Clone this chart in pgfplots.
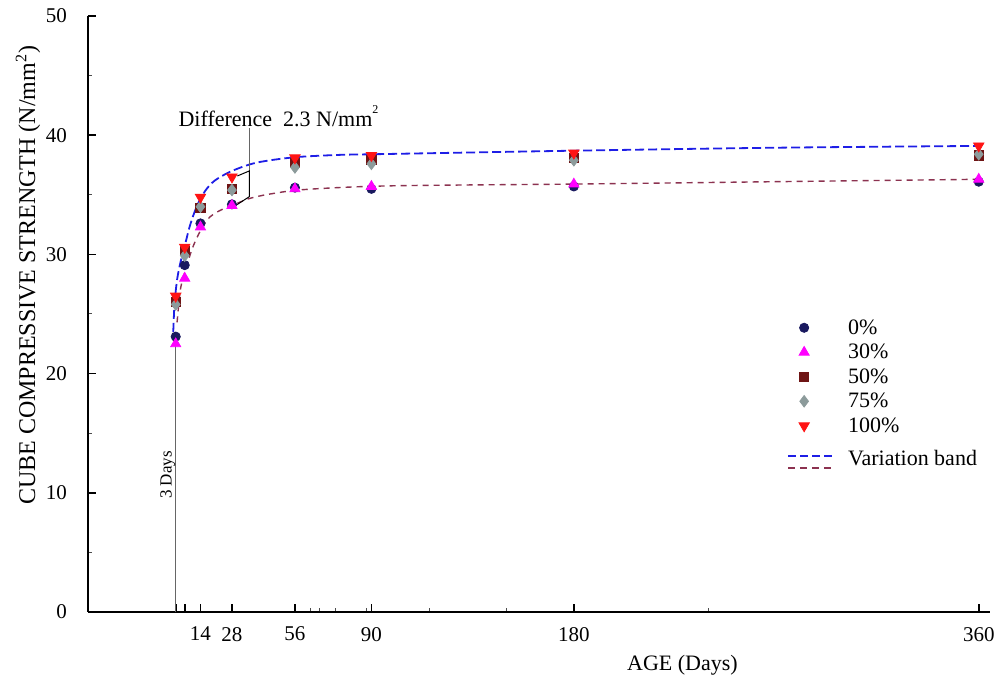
\documentclass[border=0pt]{standalone}
\usepackage{fontspec}
\setmainfont{Liberation Serif}
\usepackage{pgfplots}
\pgfplotsset{compat=1.18}
\definecolor{cnavy}{RGB}{25,25,95}
\definecolor{cmag}{RGB}{255,0,255}
\definecolor{cmaroon}{RGB}{110,20,20}
\definecolor{cgray}{RGB}{140,155,155}
\definecolor{cred}{RGB}{255,20,20}
\definecolor{cblue}{RGB}{30,30,230}
\definecolor{cpurple}{RGB}{140,50,80}
\pgfplotstableread{
day  p0    p30   p50   p75   p100
3    23.1  22.5  26.0  25.8  26.5
7    29.1  28.0  30.3  29.9  30.6
14   32.6  32.3  33.9  34.0  34.8
28   34.2  34.1  35.5  35.4  36.5
56   35.6  35.5  37.7  37.3  38.1
90   35.5  35.7  37.9  37.6  38.3
180  35.7  35.9  38.1  37.9  38.5
360  36.1  36.3  38.3  38.4  39.1
}\strength
\begin{document}
\begin{tikzpicture}
\path[use as bounding box] (-44pt,-36pt) rectangle (457pt,306pt);
\begin{axis}[
  scale only axis, width=451pt, height=298pt,
  xmin=-36, xmax=365, ymin=0, ymax=50,
  axis x line=bottom, axis y line=left,
  axis line style={-, line width=1.2pt},
  tick align=inside, major tick length=4pt, minor tick length=2pt,
  major tick style={black, line width=0.8pt},
  minor tick style={black!70, line width=0.5pt},
  xtick={3,7,14,28,56,90,180,360},
  xticklabels={,,14,28,56,90,180,360},
  minor xtick={63,67,74,88,116,150,240},
  ytick={0,10,20,30,40,50},
  minor ytick={5,15,25,35,45},
  ticklabel style={font=\fontsize{10.5}{12}\selectfont},
  /pgf/number format/assume math mode=true,
  xticklabel style={yshift=-4pt},
  yticklabel style={xshift=-7pt},
  xlabel={AGE (Days)},
  ylabel={CUBE COMPRESSIVE STRENGTH (N/mm\textsuperscript{2})},
  xlabel style={at={(axis description cs:0.659,-0.09)}, anchor=center, font=\fontsize{11}{13}\selectfont},
  ylabel style={at={(axis description cs:-0.0665,0.565)}, anchor=center, font=\fontsize{12}{14}\selectfont},
  clip=false,
  legend style={at={(0.7746,0.4935)}, anchor=north west, draw=none, fill=none,
    inner sep=0pt, row sep=2.75pt, column sep=7pt,
    nodes={inner sep=0pt, font=\fontsize{11}{13}\selectfont}},
  legend cell align=left,
]
% variation band curves
\addplot[cblue, line width=0.9pt, dash pattern=on 4.5pt off 2pt, smooth, forget plot] coordinates {
(1.9,23.5)(2.3,25.3)(2.7,26.3)(3.1,27.1)(3.7,28.0)(4.6,28.9)(5.7,29.8)(7,30.7)(9.3,32.4)(12.3,34.0)(16,35.3)(20.4,36.2)(28,37.0)(39,37.7)(56,38.15)(76,38.35)(90,38.4)(180,38.7)(270,38.95)(360,39.1)
};
\addplot[cpurple, line width=0.7pt, dash pattern=on 3pt off 2.5pt, smooth, forget plot] coordinates {
(3.6,24.3)(4.4,25.9)(5.2,27.2)(7,28.5)(9.3,29.9)(11,30.8)(14,32.0)(17,32.9)(20,33.4)(25,33.9)(28,34.1)(36,34.7)(46,35.1)(61,35.45)(98,35.75)(180,35.9)(270,36.1)(360,36.3)
};
% annotations
\draw[black!60, line width=0.6pt] (axis cs:3,0) -- (axis cs:3,22.6);
\node[rotate=90, anchor=south, inner sep=0pt, font=\fontsize{8.5}{10}\selectfont] at (axis cs:3,11.5) {3 Days};
\draw[black!60, line width=0.5pt] (axis cs:35.7,37.0) -- (axis cs:35.7,40.6);
\draw[black, line width=0.5pt] (axis cs:30.4,36.58) -- (axis cs:35.7,37.0) -- (axis cs:35.7,34.84) -- (axis cs:29.3,34.06);
\node[anchor=base west, inner sep=0pt, font=\fontsize{11}{13}\selectfont] at (axis cs:4.1,40.77) {Difference\ \ 2.3 N/mm\raisebox{1.2ex}{\fontsize{6}{7}\selectfont 2}};
% data
\addplot[only marks, mark=*, mark size=2.3pt, draw=cnavy, fill=cnavy] table[x=day, y=p0] {\strength};
\addlegendentry{\rule[-4.25pt]{0pt}{12.25pt}0\%}
\addplot[only marks, mark=triangle*, mark size=2.9pt, draw=cmag, fill=cmag] table[x=day, y=p30] {\strength};
\addlegendentry{\rule[-4.25pt]{0pt}{12.25pt}30\%}
\addplot[only marks, mark=square*, mark size=2.3pt, draw=cmaroon, fill=cmaroon] table[x=day, y=p50] {\strength};
\addlegendentry{\rule[-4.25pt]{0pt}{12.25pt}50\%}
\addplot[only marks, mark=diamond*, mark size=2.9pt, draw=cgray, fill=cgray] table[x=day, y=p75] {\strength};
\addlegendentry{\rule[-4.25pt]{0pt}{12.25pt}75\%}
\addplot[only marks, mark=triangle*, mark size=3pt, mark options={rotate=180}, draw=cred, fill=cred] table[x=day, y=p100] {\strength};
\addlegendentry{\rule[-4.25pt]{0pt}{12.25pt}100\%}
\addlegendimage{legend image code/.code={
  \draw[draw=cblue, solid, line width=1pt, dash pattern=on 4pt off 2pt] (0.5pt,-0.4pt) -- (23pt,-0.4pt);
  \draw[draw=cpurple, solid, line width=0.8pt, dash pattern=on 3.5pt off 2.5pt] (0.5pt,-6.7pt) -- (23pt,-6.7pt);
}}
\addlegendentry{\rule[-4.25pt]{0pt}{16.85pt}Variation band}
\end{axis}
\end{tikzpicture}
\end{document}
